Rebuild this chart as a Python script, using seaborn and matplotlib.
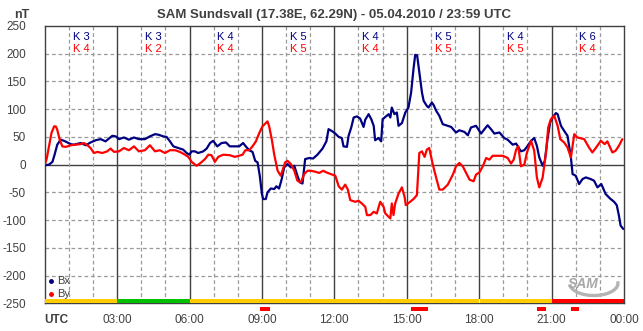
import numpy as np
import pandas as pd
import matplotlib
matplotlib.use('Agg')
import matplotlib.pyplot as plt
import seaborn as sns
from matplotlib.patches import Rectangle, Arc

# ---------------- data ----------------
bx_hours = [0.00, 0.18, 0.32, 0.41, 0.52, 0.66, 0.80, 0.94, 1.08, 1.21, 1.49, 1.70, 1.90, 2.11, 2.32,
            2.52, 2.66, 2.80, 2.94, 3.08, 3.28, 3.49, 3.70, 3.90,
            4.15, 4.36, 4.57, 4.71, 4.91, 5.05, 5.19, 5.33, 5.53, 5.74, 5.88, 5.99, 6.09, 6.22, 6.36,
            6.57, 6.71, 6.85, 6.98, 7.15, 7.33, 7.51, 7.67, 7.88,
            8.06, 8.22, 8.33, 8.47, 8.61, 8.72, 8.82, 8.91, 9.00, 9.05, 9.16, 9.23, 9.37, 9.51, 9.60,
            9.71, 9.82, 9.92, 10.06, 10.20, 10.34, 10.47, 10.57, 10.68, 10.79, 10.96, 11.12, 11.30,
            11.51, 11.67, 11.76, 11.92,
            12.04, 12.18, 12.31, 12.38, 12.52, 12.59, 12.70, 12.80, 12.94, 13.07, 13.21, 13.28, 13.42,
            13.53, 13.63, 13.69, 13.83, 13.94, 14.00, 14.11, 14.25, 14.32, 14.38, 14.49, 14.59, 14.66,
            14.80, 14.94, 15.07, 15.18, 15.28, 15.35, 15.43, 15.52, 15.63, 15.70, 15.83, 15.90, 16.04,
            16.12, 16.22, 16.35, 16.49, 16.63, 16.84, 17.04, 17.18, 17.39, 17.53, 17.66, 17.87, 18.08,
            18.22, 18.35, 18.49, 18.63, 18.84, 19.04, 19.18, 19.39, 19.53, 19.73, 19.87,
            20.01, 20.15, 20.28, 20.39, 20.49, 20.63, 20.72, 20.83, 20.94, 21.04, 21.18, 21.25, 21.39,
            21.52, 21.66, 21.80, 21.87, 22.00, 22.14, 22.28, 22.42, 22.62, 22.76, 22.90, 23.06, 23.24,
            23.42, 23.59, 23.70, 23.79, 23.86, 23.97]
bx_values = [-1, 0, 5, 18, 36, 45, 43, 40, 37, 36, 39, 35, 40, 44, 46,
             42, 47, 52, 51, 46, 49, 45, 49, 46,
             46, 51, 55, 54, 51, 50, 42, 33, 30, 27, 21, 18, 24, 24, 21,
             24, 29, 39, 43, 33, 39, 40, 33, 33,
             33, 39, 33, 26, 23, 7, 4, -20, -53, -62, -62, -50, -43, -44, -39,
             -43, -26, -5, 1, -5, -2, -20, -32, -34, 10, 12, 11, 18,
             29, 42, 64, 60,
             56, 50, 48, 33, 32, 52, 67, 85, 87, 83, 68, 81, 91,
             82, 70, 44, 48, 42, 82, 86, 91, 85, 103, 91, 94, 70,
             75, 94, 103, 130, 173, 198, 197, 167, 130, 115, 106, 103, 112,
             107, 97, 88, 73, 71, 68, 58, 62, 59, 53, 67, 70, 56,
             64, 71, 64, 56, 58, 48, 45, 36, 38, 24, 26,
             34, 43, 48, 34, 13, -2, 7, 46, 76, 85, 93, 91, 70,
             61, 52, 13, -17, -20, -35, -26, -23, -26, -29, -41, -35, -53,
             -61, -67, -73, -92, -110, -116]

by_hours = [0.00, 0.08, 0.18, 0.28, 0.39, 0.46, 0.52, 0.62, 0.73, 0.87, 1.08, 1.28, 1.49, 1.63, 1.77,
            1.90, 2.04, 2.18, 2.39, 2.59, 2.73, 2.87, 3.08, 3.28, 3.49, 3.70, 3.90,
            4.15, 4.36, 4.57, 4.77, 4.98, 5.19, 5.40, 5.60, 5.81, 5.95, 6.09, 6.29, 6.43, 6.64, 6.78,
            6.91, 7.05, 7.19, 7.40, 7.67, 7.88,
            8.20, 8.31, 8.47, 8.61, 8.75, 8.89, 9.02, 9.16, 9.23, 9.30, 9.41, 9.51, 9.65, 9.78, 9.85,
            9.96, 10.06, 10.20, 10.34, 10.47, 10.61, 10.75, 10.89, 11.03, 11.23, 11.37, 11.54, 11.67,
            11.85,
            12.04, 12.18, 12.31, 12.45, 12.56, 12.66, 12.87, 13.00, 13.14, 13.28, 13.35, 13.49, 13.63,
            13.76, 13.90, 14.04, 14.11, 14.25, 14.32, 14.38, 14.45, 14.52, 14.66, 14.80, 14.91, 14.96,
            15.14, 15.28, 15.42, 15.52, 15.63, 15.74, 15.83, 15.93,
            16.08, 16.22, 16.35, 16.49, 16.70, 16.91, 17.04, 17.18, 17.32, 17.46, 17.60, 17.77, 17.87,
            18.01, 18.15, 18.29, 18.42, 18.56, 18.77, 18.98, 19.18, 19.32, 19.43, 19.53, 19.62, 19.73,
            19.87,
            19.98, 20.15, 20.28, 20.39, 20.49, 20.63, 20.77, 20.86, 20.97, 21.11, 21.25, 21.36, 21.52,
            21.66, 21.80, 21.94, 22.07, 22.35, 22.55, 22.69, 22.83, 23.04, 23.20, 23.31, 23.52, 23.65,
            23.79, 23.93]
by_values = [0, 10, 33, 57, 69, 69, 63, 45, 33, 32, 35, 36, 37, 39, 35,
             30, 21, 23, 21, 24, 29, 23, 24, 30, 26, 33, 24,
             26, 35, 24, 26, 21, 26, 26, 23, 18, 14, 5, -2, 2, 10, 18,
             17, 5, 14, 18, 17, 14,
             18, 26, 26, 33, 42, 57, 69, 75, 78, 69, 45, 18, -11, -20, -11,
             4, 7, 1, -11, -29, -32, -17, -11, -11, -13, -15, -11, -14,
             -17,
             -20, -39, -45, -36, -45, -64, -67, -65, -70, -76, -91, -91, -85,
             -88, -67, -76, -88, -94, -97, -70, -91, -70, -52, -41, -58, -73,
             -67, -62, -55, 21, 24, 14, 27, 30,
             0, -24, -45, -45, -36, -18, -3, 3, -3, -15, -27, -30, -18,
             -14, -3, 12, 9, 16, 16, 16, 12, 2, 9, 27, 33, -3,
             0,
             22, 43, 25, -23, -41, -23, 22, 67, 82, 88, 70, 46, 40,
             31, 13, 55, 49, 46, 31, 22, 30, 43, 37, 42, 22, 25,
             34, 46]

k_bx = [3, 3, 4, 5, 4, 5, 4, 6]
k_by = [4, 2, 4, 5, 4, 5, 5, 4]

status_start = [0, 3, 6, 18, 21]
status_end = [3, 6, 18, 21, 24]
status_level = ['active', 'quiet', 'active', 'active', 'storm']

alert_start = [8.93, 15.18, 20.38, 21.80]
alert_end = [9.32, 15.88, 20.75, 22.14]

x_tick_labels = ['UTC', '03:00', '06:00', '09:00', '12:00', '15:00', '18:00', '21:00', '00:00']
y_ticks = [-250, -200, -150, -100, -50, 0, 50, 100, 150, 200, 250]

title_text = 'SAM Sundsvall (17.38E, 62.29N) - 05.04.2010 / 23:59 UTC'

# ---------------- style ----------------
sns.set_style('white')
plt.rcParams['font.family'] = ['Liberation Sans', 'DejaVu Sans']

NAVY = '#000080'
RED = '#ff0000'
DARK = '#404040'
GRID = '#9a9a9a'
level_colors = {'quiet': '#00c000', 'active': '#ffcc00', 'storm': '#ff0000'}

W, H = 643, 331
fig = plt.figure(figsize=(W / 100, H / 100), dpi=100)
x0, x1, y_top, y_bot = 44.7, 624.0, 26.0, 303.3
ax = fig.add_axes([x0 / W, 1 - y_bot / H, (x1 - x0) / W, (y_bot - y_top) / H])
ax.set_xlim(0, 24)
ax.set_ylim(-250, 250)

# grid
for yv in y_ticks[1:-1]:
    if yv == 0:
        ax.axhline(0, color=DARK, lw=1.0, zorder=1)
    else:
        ax.axhline(yv, color=GRID, lw=0.9, dashes=(3, 2.2), zorder=1)
for h in range(1, 24):
    if h % 3 == 0:
        ax.axvline(h, color=DARK, lw=1.0, zorder=1)
    else:
        ax.axvline(h, color=GRID, lw=0.9, dashes=(3, 2.2), zorder=1)

# data lines
df_bx = pd.DataFrame({'hour': bx_hours, 'nT': bx_values})
df_by = pd.DataFrame({'hour': by_hours, 'nT': by_values})
sns.lineplot(data=df_bx, x='hour', y='nT', ax=ax, color=NAVY, lw=1.6, sort=False,
             estimator=None, zorder=3)
sns.lineplot(data=df_by, x='hour', y='nT', ax=ax, color=RED, lw=1.6, sort=False,
             estimator=None, zorder=4)

# status bar at bottom
for s, e, lv in zip(status_start, status_end, status_level):
    ax.add_patch(Rectangle((s, -250), e - s, 8.5, facecolor=level_colors[lv],
                           edgecolor='none', zorder=5))
ax.plot([18, 18], [-250, -241.5], color='white', lw=0.8, zorder=6)

# alert marks below axis
for s, e in zip(alert_start, alert_end):
    ax.add_patch(Rectangle((s, -264), e - s, 7.5, facecolor=RED, edgecolor='none',
                           zorder=6, clip_on=False))

# K indices
for i, (kb, ky) in enumerate(zip(k_bx, k_by)):
    xc = 3 * i + 1.5
    ax.text(xc, 231, f'K {kb}', color=NAVY, fontsize=8, ha='center', va='center', zorder=7)
    ax.text(xc, 208, f'K {ky}', color=RED, fontsize=8, ha='center', va='center', zorder=7)

# legend
ax.plot([0.26], [-210], marker='o', ms=2.5, color=NAVY, zorder=7, clip_on=False)
ax.text(0.5, -210, 'Bx', fontsize=8, color=DARK, va='center', ha='left', zorder=7)
ax.plot([0.26], [-233], marker='o', ms=2.5, color=RED, zorder=7, clip_on=False)
ax.text(0.5, -233, 'By', fontsize=8, color=DARK, va='center', ha='left', zorder=7)

# SAM logo (approximation)
ax.add_patch(Arc((22.75, -214), 2.0, 44, angle=0, theta1=-120, theta2=75,
                 color='#b4b4b4', lw=2.4, zorder=6))
ax.text(22.3, -216, 'SAM', fontsize=10, style='italic', fontweight='bold', color='#a8a8a8',
        ha='center', va='center', zorder=7)

# ticks & labels
ax.set_xticks(range(25))
ax.set_xticklabels([x_tick_labels[h // 3] if h % 3 == 0 else '' for h in range(25)])
ax.set_yticks(y_ticks)
ax.set_yticklabels([str(v) for v in y_ticks])
ax.tick_params(axis='both', length=2.5, width=0.8, color=DARK, labelsize=8.5,
               labelcolor=DARK, direction='out')
ax.tick_params(axis='y', pad=11)
ax.tick_params(axis='x', pad=5)
ax.set_xlabel('')
ax.set_ylabel('')
first = ax.get_xticklabels()[0]
first.set_ha('left')
first.set_fontweight('bold')

for sp in ax.spines.values():
    sp.set_color(DARK)
    sp.set_linewidth(1.0)
    sp.set_visible(True)

fig.text(x0 / W + (x1 - x0) / W / 2, 1 - 15 / H, title_text, ha='center', va='center',
         fontsize=9.5, fontweight='bold', color=DARK)
fig.text(22 / W, 1 - 15 / H, 'nT', ha='center', va='center', fontsize=9,
         fontweight='bold', color=DARK)

fig.savefig('out.png', dpi=100)
